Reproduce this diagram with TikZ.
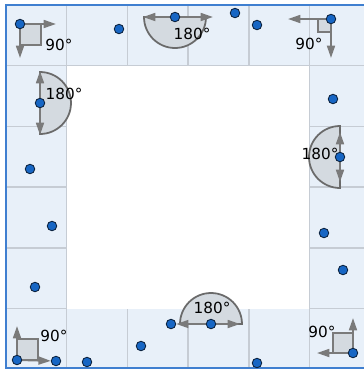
\documentclass[tikz,border=0pt]{standalone}
\usepackage{fontspec}
\setmainfont{DejaVu Sans}
\usepackage{tikz}
\usetikzlibrary{arrows.meta, positioning, calc}

\definecolor{ringblue}{HTML}{E8F0F9}
\definecolor{gridgray}{HTML}{C6CCD4}
\definecolor{edgeblue}{HTML}{3F7FD0}
\definecolor{dotblue}{HTML}{1766C4}
\definecolor{dotline}{HTML}{0C2340}
\definecolor{markfill}{HTML}{D4DAE0}
\definecolor{markline}{HTML}{6A6A6A}
\definecolor{raygray}{HTML}{7A7A7A}

\tikzset{
  pt/.style={circle, fill=dotblue, draw=dotline, line width=0.5pt,
    inner sep=0pt, minimum size=0.19cm},
  halfdisk/.style={fill=markfill, draw=markline, line width=1pt},
  rightsq/.style={fill=markfill, draw=raygray, line width=1pt},
  ray/.style={draw=raygray, line width=1.1pt,
    -{Triangle[length=7pt, width=4.5pt]}},
  deg/.style={inner sep=0pt},
  gridline/.style={draw=gridgray, line width=0.8pt},
}

\begin{document}
\begin{tikzpicture}[x=0.02cm, y=-0.02cm, font=\fontsize{8.7}{10}\selectfont]
  \useasboundingbox (0,0) rectangle (364,370);
  \clip (0,0) rectangle (364,370);

  %--- ring of cells, white inside ---
  \fill[ringblue] (6,5) rectangle (370,369);
  \foreach \k in {1,...,5} {
    \draw[gridline] ({6+\k*60.7},5) -- ({6+\k*60.7},369);
    \draw[gridline] (6,{5+\k*60.7}) -- (370,{5+\k*60.7});
  }
  \fill[white] (67,66) rectangle (309.5,308.5);
  \draw[edgeblue, line width=1.4pt] (6,5) rectangle (370,368);

  %--- points carrying an angle ---
  \coordinate (A) at (20,24);
  \coordinate (B) at (175,17);
  \coordinate (C) at (331,19);
  \coordinate (D) at (40,103);
  \coordinate (E) at (340,157);
  \coordinate (F) at (211,324);
  \coordinate (G) at (17,360);
  \coordinate (H) at (353,353);

  %--- free ends of the rays ---
  \coordinate (Ar) at (56,24);
  \coordinate (Ad) at (20,58);
  \coordinate (Bl) at (143,17);
  \coordinate (Br) at (213,17);
  \coordinate (Cl) at (288,19);
  \coordinate (Cd) at (331,58);
  \coordinate (Du) at (40,71);
  \coordinate (Dd) at (40,135);
  \coordinate (Eu) at (340,132);
  \coordinate (Ed) at (340,182);
  \coordinate (Fr) at (240,324);
  \coordinate (Gu) at (17,326);
  \coordinate (Hu) at (353,318);
  \coordinate (Hl) at (317,353);

  %--- half disks (180) ---
  \draw[halfdisk] (B) ++(-0.62cm,0) arc[start angle=180, end angle=360, radius=0.62cm] -- cycle;
  \draw[halfdisk] (D) ++(0,0.62cm) arc[start angle=90, end angle=-90, radius=0.62cm] -- cycle;
  \draw[halfdisk] (E) ++(0,0.62cm) arc[start angle=90, end angle=270, radius=0.62cm] -- cycle;
  \draw[halfdisk] (F) ++(0.62cm,0) arc[start angle=0, end angle=180, radius=0.62cm] -- cycle;

  %--- right-angle squares (90) ---
  \draw[rightsq] (A) rectangle ++(21,21);
  \draw[rightsq] (C) rectangle ++(-13,13);
  \draw[rightsq] (G) rectangle ++(21,-21);
  \draw[rightsq] (H) rectangle ++(-20,-20);

  %--- plain points ---
  \node[pt] (t1) at (119,29) {};
  \node[pt] (t2) at (235,13) {};
  \node[pt] (t3) at (257,25) {};
  \node[pt] (r1) at (333,99) {};
  \node[pt] (r2) at (324,233) {};
  \node[pt] (r3) at (343,270) {};
  \node[pt] (b1) at (257,363) {};
  \node[pt] (b2) at (171,324) {};
  \node[pt] (b3) at (141,346) {};
  \node[pt] (b4) at (87,362) {};
  \node[pt] (b5) at (56,361) {};
  \node[pt] (l1) at (35,287) {};
  \node[pt] (l2) at (52,226) {};
  \node[pt] (l3) at (30,169) {};

  %--- rays ---
  \draw[ray] (A) -- (Ar);
  \draw[ray] (A) -- (Ad);
  \draw[ray] (B) -- (Bl);
  \draw[ray] (B) -- (Br);
  \draw[ray] (C) -- (Cl);
  \draw[ray] (C) -- (Cd);
  \draw[ray] (D) -- (Du);
  \draw[ray] (D) -- (Dd);
  \draw[ray] (E) -- (Eu);
  \draw[ray] (E) -- (Ed);
  \draw[ray] (F) -- (b2);
  \draw[ray] (F) -- (Fr);
  \draw[ray] (G) -- (Gu);
  \draw[ray] (G) -- (b5);
  \draw[ray] (H) -- (Hu);
  \draw[ray] (H) -- (Hl);

  %--- angle labels ---
  \node[deg] (degA) at (59,45) {90°};
  \node[deg] (degB) at (192,34) {180°};
  \node[deg] (degC) at (309,44) {90°};
  \node[deg] (degD) at (64,94) {180°};
  \node[deg] (degE) at (320,154) {180°};
  \node[deg] (degF) at (212,308) {180°};
  \node[deg] (degG) at (54,336) {90°};
  \node[deg] (degH) at (322,332) {90°};

  %--- points on top ---
  \node[pt] (pA) at (A) {};
  \node[pt] (pB) at (B) {};
  \node[pt] (pC) at (C) {};
  \node[pt] (pD) at (D) {};
  \node[pt] (pE) at (E) {};
  \node[pt] (pF) at (F) {};
  \node[pt] (pG) at (G) {};
  \node[pt] (pH) at (H) {};
\end{tikzpicture}
\end{document}
